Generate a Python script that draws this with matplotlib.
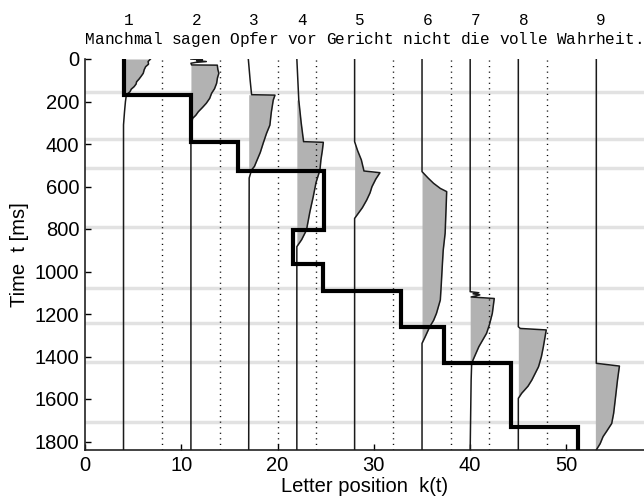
import matplotlib
matplotlib.use("Agg")
import matplotlib.pyplot as plt
import numpy as np

plt.rcParams['font.family'] = ['Liberation Sans', 'DejaVu Sans']

# sentence, one character per letter position
sentence = "Manchmal sagen Opfer vor Gericht nicht die volle Wahrheit."
word_base = [4, 11, 17, 22, 28, 35, 40, 45, 53]      # solid lines
word_end = [8, 14, 20, 24, 32, 38, 42, 48]           # dotted lines
fix_k = [4, 11, 15.9, 24.8, 21.6, 24.7, 32.8, 37.3, 44.2, 51.2]
fix_t = [0, 168, 389, 525, 805, 965, 1092, 1260, 1431, 1730, 1840]
band_t = [154, 375, 512, 792, 1079, 1241, 1424, 1707]

# activation curves per word (time ms, letter position)
w1_t = [0, 12, 24, 36, 50, 67, 80, 95, 107, 118, 130, 142, 154, 168, 200, 250, 310, 1840]
w1_k = [6.8, 6.55, 6.6, 6.3, 6.15, 6.05, 5.85, 5.6, 5.36, 5.3, 5.1, 4.8, 4.67, 4.3, 4.2, 4.1, 4.0, 4.0]
w2_t = [0, 4, 8, 12, 16, 20, 28, 29, 50, 67, 90, 114, 140, 161, 185, 208, 228, 248, 265, 279, 320, 1840]
w2_k = [11.0, 12.2, 11.6, 12.6, 11.5, 11.0, 11.07, 13.74, 13.8, 13.9, 13.75, 13.67, 13.45, 13.15,
        12.95, 12.6, 12.2, 11.77, 11.5, 11.18, 11.0, 11.0]
w3_t = [0, 100, 168, 170, 193, 250, 311, 350, 397, 440, 483, 505, 522, 560, 1840]
w3_k = [16.96, 17.15, 17.3, 19.73, 19.55, 19.35, 19.2, 18.85, 18.5, 18.2, 17.8, 17.6, 17.3, 17.05, 17.0]
w4_t = [0, 193, 300, 389, 392, 430, 475, 522, 580, 648, 720, 805, 850, 883, 1840]
w4_k = [22.0, 22.2, 22.45, 22.7, 24.75, 24.65, 24.5, 24.4, 24.0, 23.7, 23.35, 23.0, 22.5, 22.0, 22.0]
w5_t = [0, 389, 430, 475, 527, 535, 565, 601, 630, 664, 700, 750, 1840]
w5_k = [28.0, 28.0, 28.3, 28.7, 28.97, 30.63, 30.2, 29.8, 29.6, 29.25, 28.8, 28.0, 28.0]
w6_t = [0, 530, 561, 585, 609, 624, 700, 820, 900, 977, 1060, 1134, 1197, 1230, 1260, 1275, 1310, 1338, 1840]
w6_k = [35.0, 35.0, 35.65, 36.2, 36.9, 37.56, 37.5, 37.4, 37.2, 37.1, 37.0, 36.9, 36.5, 36.2,
        35.8, 35.65, 35.3, 35.0, 35.0]
w7_t = [0, 1095, 1100, 1105, 1110, 1120, 1127, 1197, 1250, 1291, 1354, 1416, 1440, 1511, 1840]
w7_k = [40.0, 40.0, 40.9, 40.3, 41.0, 40.1, 42.5, 42.3, 42.0, 41.7, 40.9, 40.3, 40.15, 40.1, 40.0]
w8_t = [0, 1260, 1268, 1275, 1354, 1400, 1448, 1511, 1540, 1573, 1597, 1840]
w8_k = [45.0, 45.0, 45.2, 47.9, 47.6, 47.4, 47.1, 46.4, 46.0, 45.35, 45.0, 45.0]
w9_t = [0, 1432, 1445, 1511, 1590, 1667, 1715, 1750, 1777, 1810, 1832, 1840]
w9_k = [53.1, 53.1, 55.5, 55.3, 55.1, 54.9, 54.7, 54.2, 53.8, 53.5, 53.2, 53.1]
fill_range = [(0, 168), (28, 279), (168, 522), (193, 883), (389, 750),
              (530, 1338), (1120, 1440), (1268, 1597), (1432, 1840)]

curves = [(w1_t, w1_k), (w2_t, w2_k), (w3_t, w3_k), (w4_t, w4_k), (w5_t, w5_k),
          (w6_t, w6_k), (w7_t, w7_k), (w8_t, w8_k), (w9_t, w9_k)]

fig = plt.figure(figsize=(6.44, 4.99), dpi=100)
ax = fig.add_axes([85 / 644, 49 / 499, 558.5 / 644, 391 / 499])

for t in band_t:
    ax.axhline(t, color='#e2e2e2', lw=2.5, zorder=0.5)

for k in word_end:
    ax.axvline(k, color='black', lw=1.0, dashes=(0.8, 3.2), zorder=2)

for base, (tt, kk), (t0, t1) in zip(word_base, curves, fill_range):
    tt = np.array(tt, dtype=float)
    kk = np.array(kk, dtype=float)
    mask = (tt >= t0) & (tt <= t1)
    ax.fill_betweenx(tt, base, kk, where=mask, color='#b2b2b2', lw=0, zorder=1)
    ax.plot(kk, tt, color='#1a1a1a', lw=1.1, zorder=3)

# fixation staircase
path_k = np.repeat(fix_k, 2)
path_t = np.column_stack([fix_t[:-1], fix_t[1:]]).ravel()
ax.plot(path_k, path_t, color='black', lw=3, solid_joinstyle='miter', zorder=4)

# sentence and word numbers above the plot
for i, ch in enumerate(sentence):
    ax.text(i + 0.5, -94, ch, ha='center', va='center', fontsize=11.6,
            family='Liberation Mono', clip_on=False)
for n, base in enumerate(word_base, start=1):
    ax.text(base + 0.55, -179, str(n), ha='center', va='center', fontsize=11.6,
            family='Liberation Mono', clip_on=False)

ax.set_xlim(0, 58)
ax.set_ylim(1840, 0)
ax.set_xticks(np.arange(0, 51, 10))
ax.set_yticks(np.arange(0, 1801, 200))
ax.tick_params(direction='in', length=4, width=1, labelsize=14.5, pad=4)
for side in ['top', 'right']:
    ax.spines[side].set_visible(False)
for side in ['left', 'bottom']:
    ax.spines[side].set_linewidth(1.2)
    ax.spines[side].set_color('#222222')

ax.set_xlabel('Letter position  k(t)', fontsize=14.5)
ax.set_ylabel('Time  t [ms]', fontsize=14.5)
ax.xaxis.set_label_coords(0.5, -0.07)
ax.yaxis.set_label_coords(-0.10, 0.5)

fig.savefig('out.png', dpi=100)
